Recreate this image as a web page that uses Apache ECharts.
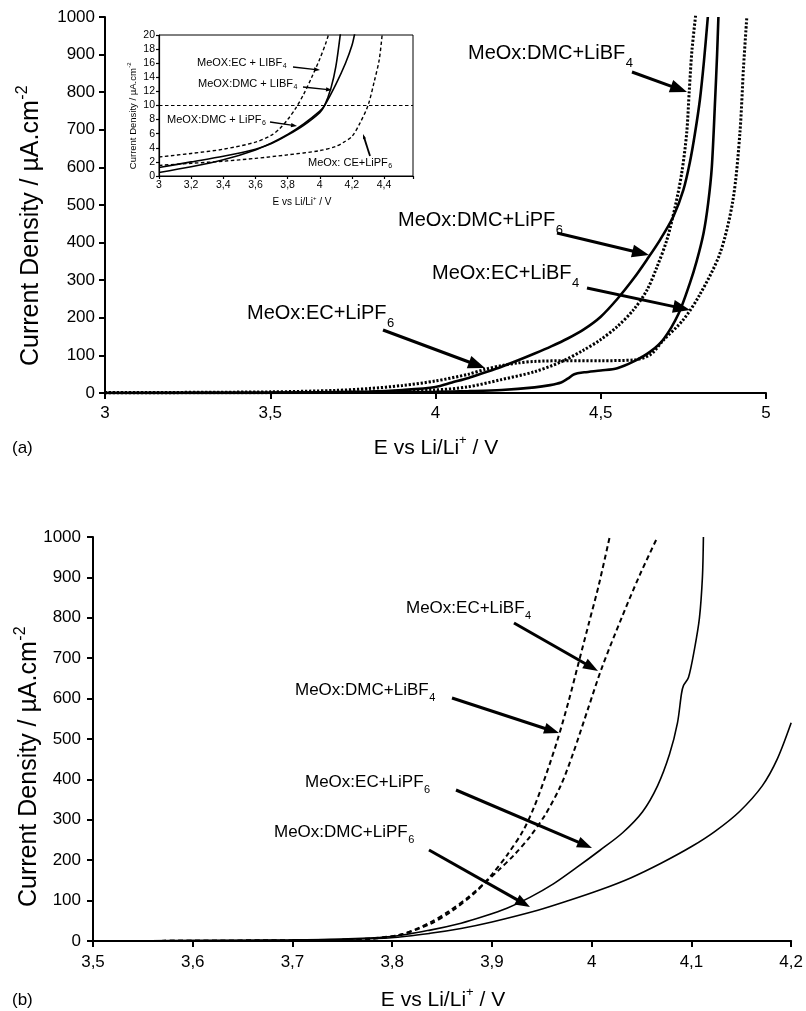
<!DOCTYPE html>
<html><head><meta charset="utf-8">
<script src="https://cdn.jsdelivr.net/npm/echarts@6/dist/echarts.min.js"></script>
<style>html,body{margin:0;padding:0;background:#fff}#c{width:806px;height:1011px}</style>
</head><body><div id="c"></div>
<script>
// ===================== DATA =====================
// Panel (a): current density (µA/cm2) vs potential (V)
const aDmcBf4 = [[3.0,0],[3.5,1],[3.8,3],[3.995,8],[4.096,16],[4.196,35],[4.297,56],[4.378,82],[4.448,114],[4.498,141],[4.549,176],[4.599,221],[4.64,274],[4.67,335],[4.70,407],[4.725,495],[4.745,585],[4.76,691],[4.768,806],[4.776,912],[4.789,1019]];
const aDmcPf6 = [[3.0,0],[3.5,1],[3.8,4],[3.9,8],[4.0,16],[4.05,28],[4.1,40],[4.144,53],[4.2,70],[4.25,87],[4.3,105],[4.35,124],[4.4,145],[4.45,170],[4.5,203],[4.55,250],[4.6,305],[4.64,355],[4.68,408],[4.72,470],[4.75,540],[4.77,615],[4.785,690],[4.8,780],[4.812,880],[4.824,1000]];
const aEcBf4 = [[3.0,0],[3.8,1],[4.0,3],[4.1,5],[4.2,8],[4.3,15],[4.347,21],[4.38,28],[4.40,38],[4.42,50],[4.45,55],[4.5,60],[4.55,66],[4.6,84],[4.65,110],[4.69,143],[4.735,210],[4.77,293],[4.79,350],[4.811,425],[4.825,505],[4.836,600],[4.846,779],[4.852,900],[4.856,1000]];
const aEcPf6 = [[3.0,1],[3.5,3],[3.7,7],[3.8,12],[3.9,20],[4.0,32],[4.1,50],[4.15,63],[4.2,73],[4.25,80],[4.3,84],[4.4,86],[4.5,86],[4.6,88],[4.65,102],[4.689,140],[4.749,194],[4.8,262],[4.861,372],[4.9,513],[4.921,691],[4.932,867],[4.942,1000]];
// Inset of panel (a)
const insEcBf4 = [[3.0,2.7],[3.2,3.2],[3.4,3.8],[3.6,4.8],[3.7,5.8],[3.75,6.7],[3.8,8.0],[3.85,9.6],[3.9,11.6],[3.95,14.0],[4.0,16.6],[4.04,19.0],[4.06,20.5]];
const insDmcBf4 = [[3.0,1.2],[3.2,2.0],[3.4,2.8],[3.6,3.8],[3.7,4.6],[3.8,5.8],[3.9,7.2],[4.0,9.0],[4.03,10],[4.07,12.5],[4.1,15.5],[4.13,20.5]];
const insDmcPf6 = [[3.0,0.5],[3.2,1.3],[3.4,2.3],[3.6,3.7],[3.7,4.7],[3.8,5.9],[3.9,7.4],[4.0,9.2],[4.03,10],[4.1,13],[4.16,16],[4.2,18.5],[4.22,20.5]];
const insEcPf6 = [[3.0,1.5],[3.2,1.8],[3.4,2.1],[3.6,2.5],[3.8,3.0],[4.0,3.6],[4.1,4.2],[4.15,4.8],[4.2,5.6],[4.25,7.5],[4.3,10],[4.34,13.5],[4.37,16.5],[4.39,20.5]];
const insThreshold = 10;
// Panel (b)
const bDmcBf4 = [[3.5,0],[3.6,0.5],[3.7,1.5],[3.75,2.5],[3.779,5],[3.807,15],[3.838,42],[3.861,76],[3.884,122],[3.9,165],[3.915,212],[3.931,272],[3.942,330],[3.954,410],[3.966,500],[3.977,595],[3.987,690],[3.997,785],[4.007,880],[4.018,1000]];
const bEcBf4 = [[3.5,0],[3.6,0.5],[3.7,1.5],[3.75,3],[3.807,15],[3.838,46],[3.857,74],[3.876,108],[3.892,142],[3.907,176],[3.923,215],[3.938,258],[3.954,315],[3.969,385],[3.981,462],[3.997,580],[4.01,675],[4.03,800],[4.048,905],[4.066,1000]];
const bEcPf6 = [[3.5,0],[3.6,1],[3.7,3],[3.75,5],[3.799,11],[3.838,27],[3.869,44],[3.892,61],[3.915,81],[3.938,108],[3.962,142],[3.985,182],[4.008,224],[4.031,268],[4.051,320],[4.066,384],[4.078,462],[4.086,540],[4.09,612],[4.092,632],[4.097,652],[4.103,722],[4.108,799],[4.111,900],[4.112,1000]];
const bDmcPf6 = [[3.5,0],[3.6,1],[3.7,2],[3.75,4],[3.799,8],[3.838,19],[3.869,31],[3.9,47],[3.946,76],[3.977,100],[4.008,126],[4.039,156],[4.07,193],[4.101,235],[4.124,272],[4.148,320],[4.171,384],[4.186,450],[4.2,540]];
// labels
const xTitle = ['E vs Li/Li', '+', ' / V'];
const yTitle = ['Current Density / \u00b5A.cm', '-2'];

// ===================== LAYOUT =====================
const FF = "'Liberation Sans', Arial, sans-serif";
const chart = echarts.init(document.getElementById('c'), null, {renderer: 'canvas'});
const fmtComma = v => { const r = Math.round(v * 10) / 10; return String(r).replace('.', ','); };
const fmtInt = v => String(Math.round(v));

function axisBase(lw, tickLen) {
  return {
    axisLine: {show: true, onZero: false, lineStyle: {color: '#000', width: lw}},
    axisTick: {show: true, length: tickLen, lineStyle: {color: '#000', width: lw}},
    splitLine: {show: false}
  };
}
function lbl(fs, margin, fmt) { return {color: '#000', fontSize: fs, fontFamily: FF, margin: margin, formatter: fmt}; }
function line(data, xi, style) {
  return {type: 'line', xAxisIndex: xi, yAxisIndex: xi, data: data, showSymbol: false, symbol: 'none',
    smooth: 0.3, silent: true, animation: false, lineStyle: Object.assign({color: '#000'}, style)};
}

const DOT = {width: 3, type: [2.2, 1.8]};
const SOLID_A = {width: 2.6, type: 'solid'};
const DASH_B = {width: 2, type: [5, 3.5]};
const SOLID_B = {width: 1.6, type: 'solid'};
const DASH_I = {width: 1.4, type: [3.5, 2.5]};
const SOLID_I = {width: 1.6, type: 'solid'};

const option = {
  backgroundColor: '#fff',
  animation: false,
  grid: [
    {left: 105, top: 17, width: 661, height: 376},
    {left: 93, top: 537, width: 701, height: 404},
    {left: 159, top: 35, width: 254, height: 141, show: true, borderColor: '#000', borderWidth: 1, backgroundColor: '#fff', z: 5}
  ],
  xAxis: [
    Object.assign(axisBase(2, 6), {type: 'value', gridIndex: 0, min: 3, max: 5, interval: 0.5, axisLabel: lbl(17, 12, fmtComma)}),
    Object.assign(axisBase(2, 6), {type: 'value', gridIndex: 1, min: 3.5, max: 4.2, interval: 0.1, axisLabel: lbl(17, 13, fmtComma)}),
    Object.assign(axisBase(1.2, 3), {type: 'value', gridIndex: 2, min: 3, max: 4.58, interval: 0.2, z: 6,
      axisLabel: lbl(10.5, 4, v => v > 4.41 ? '' : fmtComma(v))})
  ],
  yAxis: [
    Object.assign(axisBase(2, 6), {type: 'value', gridIndex: 0, min: 0, max: 1000, interval: 100, axisLabel: lbl(17, 10, fmtInt)}),
    Object.assign(axisBase(2, 6), {type: 'value', gridIndex: 1, min: 0, max: 1000, interval: 100, axisLabel: lbl(17, 12, fmtInt)}),
    Object.assign(axisBase(1.2, 3), {type: 'value', gridIndex: 2, min: 0, max: 20, interval: 2, z: 6, axisLabel: lbl(10.5, 4, fmtInt)})
  ],
  series: [
    line(aDmcBf4, 0, DOT), line(aDmcPf6, 0, SOLID_A), line(aEcBf4, 0, SOLID_A), line(aEcPf6, 0, DOT),
    line(bDmcBf4, 1, DASH_B), line(bEcBf4, 1, DASH_B), line(bEcPf6, 1, SOLID_B), line(bDmcPf6, 1, SOLID_B),
    Object.assign(line(insEcBf4, 2, DASH_I), {z: 7, markLine: {symbol: 'none', silent: true, animation: false,
      data: [{yAxis: insThreshold}], label: {show: false}, lineStyle: {color: '#000', width: 1, type: [3.5, 2.5]}}}),
    Object.assign(line(insDmcBf4, 2, SOLID_I), {z: 7}),
    Object.assign(line(insDmcPf6, 2, SOLID_I), {z: 7}),
    Object.assign(line(insEcPf6, 2, DASH_I), {z: 7})
  ]
};
chart.setOption(option);

// ===================== ANNOTATIONS =====================
const mctx = document.createElement('canvas').getContext('2d');
function tw(t, fs) { mctx.font = fs + 'px ' + FF; return mctx.measureText(t).width; }
function txt(x, y, t, fs, align) {
  return {type: 'text', x: x, y: y, z: 100, silent: true,
    style: {text: t, fill: '#000', font: fs + 'px ' + FF, align: align || 'left', verticalAlign: 'middle'}};
}
function subText(x, cy, main, sub, fs, sfs, drop) {
  const w = tw(main, fs);
  return [txt(x, cy, main, fs), txt(x + w + 0.5, cy + drop, sub, sfs)];
}
function arrow(x1, y1, x2, y2, w, hl, hw) {
  const dx = x2 - x1, dy = y2 - y1, L = Math.hypot(dx, dy), ux = dx / L, uy = dy / L;
  const bx = x2 - ux * hl, by = y2 - uy * hl;
  return [
    {type: 'line', z: 100, silent: true, shape: {x1: x1, y1: y1, x2: bx + ux * 2, y2: by + uy * 2}, style: {stroke: '#000', lineWidth: w}},
    {type: 'polygon', z: 100, silent: true, shape: {points: [[x2, y2], [bx - uy * hw, by + ux * hw], [bx + uy * hw, by - ux * hw]]}, style: {fill: '#000'}}
  ];
}
function xTitleEls(cx, cy, fs) {
  const sfs = Math.round(fs * 0.62);
  const w0 = tw(xTitle[0], fs), w1 = tw(xTitle[1], sfs), w2 = tw(xTitle[2], fs);
  const x0 = cx - (w0 + w1 + w2) / 2;
  return [txt(x0, cy, xTitle[0], fs), txt(x0 + w0, cy - fs * 0.35, xTitle[1], sfs), txt(x0 + w0 + w1, cy, xTitle[2], fs)];
}
function yTitleEl(cx, cy, fs) {
  const sfs = Math.round(fs * 0.62);
  const w0 = tw(yTitle[0], fs), w1 = tw(yTitle[1], sfs);
  const x0 = -(w0 + w1) / 2;
  return {type: 'group', x: cx, y: cy, rotation: Math.PI / 2, z: 100, silent: true,
    children: [txt(x0, 0, yTitle[0], fs), txt(x0 + w0 + 0.5, -fs * 0.35, yTitle[1], sfs)]};
}

let els = [];
// panel (a) annotations
els = els.concat(subText(468, 53, 'MeOx:DMC+LiBF', '4', 20, 13, 10), arrow(632, 72, 687, 92, 3, 17, 6.5));
els = els.concat(subText(398, 220, 'MeOx:DMC+LiPF', '6', 20, 13, 10), arrow(557, 233, 649, 255, 3, 17, 6.5));
els = els.concat(subText(432, 273, 'MeOx:EC+LiBF', '4', 20, 13, 10), arrow(587, 288, 690, 310, 3, 17, 6.5));
els = els.concat(subText(247, 313, 'MeOx:EC+LiPF', '6', 20, 13, 10), arrow(383, 330, 485, 368, 3, 17, 6.5));
// inset annotations
els = els.concat(subText(197, 63, 'MeOX:EC + LIBF', '4', 11, 7, 3), arrow(293, 67, 320, 70, 1.3, 6, 2.2));
els = els.concat(subText(198, 84, 'MeOX:DMC + LIBF', '4', 11, 7, 3), arrow(303, 87, 332, 90, 1.3, 6, 2.2));
els = els.concat(subText(167, 120, 'MeOX:DMC + LiPF', '6', 11, 7, 3), arrow(270, 122, 297, 126, 1.3, 6, 2.2));
els = els.concat(subText(308, 163, 'MeOx: CE+LiPF', '6', 11, 7, 3), arrow(370, 156, 363, 134, 1.8, 5, 1.5));
// panel (b) annotations
els = els.concat(subText(406, 608, 'MeOx:EC+LiBF', '4', 17, 11, 8), arrow(514, 623, 598, 671, 3, 15, 5.5));
els = els.concat(subText(295, 690, 'MeOx:DMC+LiBF', '4', 17, 11, 8), arrow(452, 698, 559, 733, 3, 15, 5.5));
els = els.concat(subText(305, 782, 'MeOx:EC+LiPF', '6', 17, 11, 8), arrow(456, 790, 592, 848, 3, 15, 5.5));
els = els.concat(subText(274, 832, 'MeOx:DMC+LiPF', '6', 17, 11, 8), arrow(429, 850, 530, 907, 3, 15, 5.5));
// titles
els = els.concat(xTitleEls(436, 448, 21), xTitleEls(443, 1000, 21), xTitleEls(302, 202, 10));
els.push(yTitleEl(31, 226, 25), yTitleEl(29, 767, 25), yTitleEl(133, 116, 9.5));
els.push(txt(12, 448, '(a)', 17), txt(12, 1000, '(b)', 17));

chart.setOption({graphic: {elements: els}});
</script>
</body></html>
